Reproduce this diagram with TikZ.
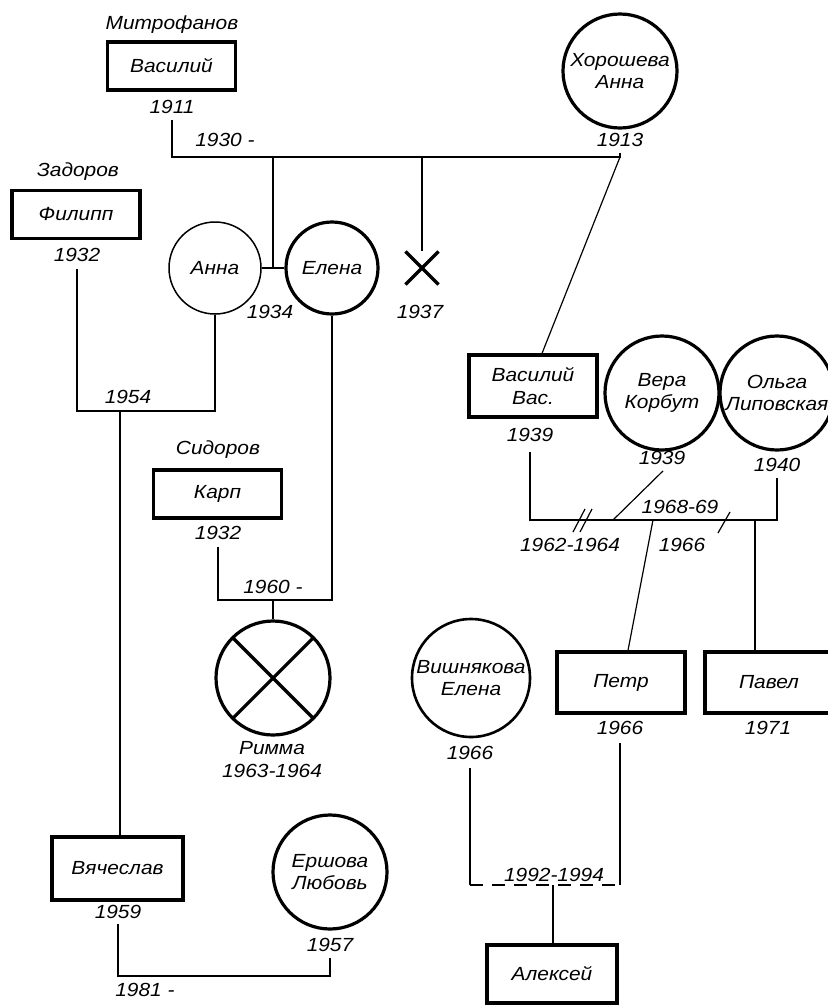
\documentclass[tikz,border=0pt]{standalone}
\usepackage{fontspec}
\setmainfont{Liberation Sans}[FakeStretch=1.1]
\usetikzlibrary{shapes.misc}
\begin{document}
\begin{tikzpicture}[x=1pt,y=-1pt,
  every node/.style={font=\fontsize{19}{22.5}\selectfont\itshape, inner sep=0pt, align=center},
  man/.style={draw, line width=3.2pt, minimum width=128pt, minimum height=48pt},
  woman/.style={draw, circle, line width=3.2pt, minimum size=114pt},
  link/.style={line width=1.2pt},
  cross/.style={line width=3.2pt, shorten >=2pt, shorten <=2pt}]
\useasboundingbox (0,0) rectangle (828,1005);
\clip (0,0) rectangle (828,1005);
% generation 1
\node (mitro) at (172,25) {Митрофанов};
\node[man] (vas) at (171.5,66) {Василий};
\node (y1911) at (172,107) {1911};
\node[woman] (khor) at (620,71) {Хорошева\\Анна};
\node (y1913) at (620,140) {1913};
\node (y1930) at (225,140) {1930 -};
% generation 2
\node (zad) at (78,172) {Задоров};
\node[man] (fil) at (76,214.5) {Филипп};
\node (y1932a) at (77,255) {1932};
\node[woman, line width=1.5pt, minimum size=92pt] (anna) at (215,268) {Анна};
\node[woman, minimum size=92pt] (elena) at (332,268) {Елена};
\node[cross out, draw, line width=3.2pt, minimum size=30pt] (xm) at (422,268) {};
\node (y1934) at (270,312) {1934};
\node (y1937) at (420,312) {1937};
\node[man, minimum height=62pt] (vasv) at (533,386) {Василий\\Вас.};
\node (y1939a) at (530,435) {1939};
\node[woman] (vera) at (662,393) {Вера\\Корбут};
\node (y1939b) at (662,458) {1939};
\node[woman] (olga) at (777,393) {Ольга\\Липовская};
\node (y1940) at (777,465) {1940};
\node (y1954) at (128,397) {1954};
\node (sid) at (218,450) {Сидоров};
\node[man] (karp) at (217.5,494) {Карп};
\node (y1932b) at (218,533) {1932};
\node (y1960) at (273,587) {1960 -};
\node (y1962) at (570,545) {1962-1964};
\node (y1968) at (680,507) {1968-69};
\node (y1966a) at (682,545) {1966};
% generation 3
\node[woman] (rimma) at (273,678) {};
\node (rimmaname) at (272,748) {Римма};
\node (y1963) at (272,771) {1963-1964};
\node[man, minimum height=61pt] (petr) at (621,682.5) {Петр};
\node[man, minimum height=61pt] (pavel) at (769,682.5) {Павел};
\node (y1966b) at (620,728) {1966};
\node (y1971) at (768,728) {1971};
\node[woman, minimum size=118pt, line width=2.6pt] (vish) at (471,678) {Вишнякова\\Елена};
\node (y1966c) at (470,753) {1966};
\node[man, minimum width=131pt, minimum height=63pt] (vya) at (117.5,868.5) {Вячеслав};
\node (y1959) at (118,912) {1959};
\node[woman] (ersh) at (330,872) {Ершова\\Любовь};
\node (y1957) at (330,945) {1957};
\node (y1981) at (145,990) {1981 -};
\node (y1992) at (554,875) {1992-1994};
% generation 4
\node[man, minimum width=130pt, minimum height=58pt] (alex) at (552,974) {Алексей};
% Rimma cross
\draw[cross] (rimma.135) -- (rimma.-45);
\draw[cross] (rimma.45) -- (rimma.-135);
% junction coordinates
\coordinate (m1R) at (620,157);
\coordinate (c1) at (273,157);
\coordinate (c2) at (422,157);
\coordinate (m2) at (215,411);
\coordinate (m2c) at (120,411);
\coordinate (m3) at (332,600);
\coordinate (m4) at (330,976);
\coordinate (m5R) at (777,520);
\coordinate (m5v) at (613,520);
\coordinate (m5p) at (653,520);
\coordinate (m5q) at (755,520);
\coordinate (m6L) at (470,885);
\coordinate (m6R) at (620,885);
\coordinate (m6c) at (553,885);
% Vasiliy + Khorosheva
\draw[link] ([yshift=-6pt]y1911.south) |- (m1R) -- ([yshift=-6pt]y1913.south);
\draw[link] (m1R) -- ([xshift=9pt]vasv.north);
\draw[link] (c1) -- (c1 |- anna.east);
\draw[line width=2pt] (anna.east) -- (elena.west);
\draw[link] (c2) -- (xm.north);
% Filipp + Anna
\draw[link] ([yshift=-7pt]y1932a.south) |- (m2) -- (anna.south);
\draw[link] (m2c) -- (m2c |- vya.north);
% Karp + Elena
\draw[link] ([yshift=-7pt]y1932b.south) |- (m3) -- (elena.south);
\draw[link] (rimma.north |- m3) -- (rimma.north);
% Vyacheslav + Ershova
\draw[link] ([yshift=-5pt]y1959.south) |- (m4) -- ([yshift=-6pt]y1957.south);
% Vasiliy Vas. marriages
\draw[link] ([yshift=-10pt]y1939a.south) |- (m5R) -- ([yshift=-6pt]y1940.south);
\draw[link] ([xshift=1pt,yshift=-6pt]y1939b.south) -- (m5v);
\draw[link] (573,532) -- (585,509);
\draw[link] (580,532) -- (592,509);
\draw[link] (718,533) -- (730,512);
\draw[link] (m5p) -- ([xshift=7pt]petr.north);
\draw[link] (m5q) -- ([xshift=-14pt]pavel.north);
% Petr + Vishnyakova
\draw[link] ([yshift=-8pt]y1966c.south) -- (m6L);
\draw[link, dash pattern=on 13pt off 9pt] (m6L) -- (m6R);
\draw[link] (m6R) -- ([yshift=-8pt]y1966b.south);
\draw[link] (m6c) -- (m6c |- alex.north);
\end{tikzpicture}
\end{document}
